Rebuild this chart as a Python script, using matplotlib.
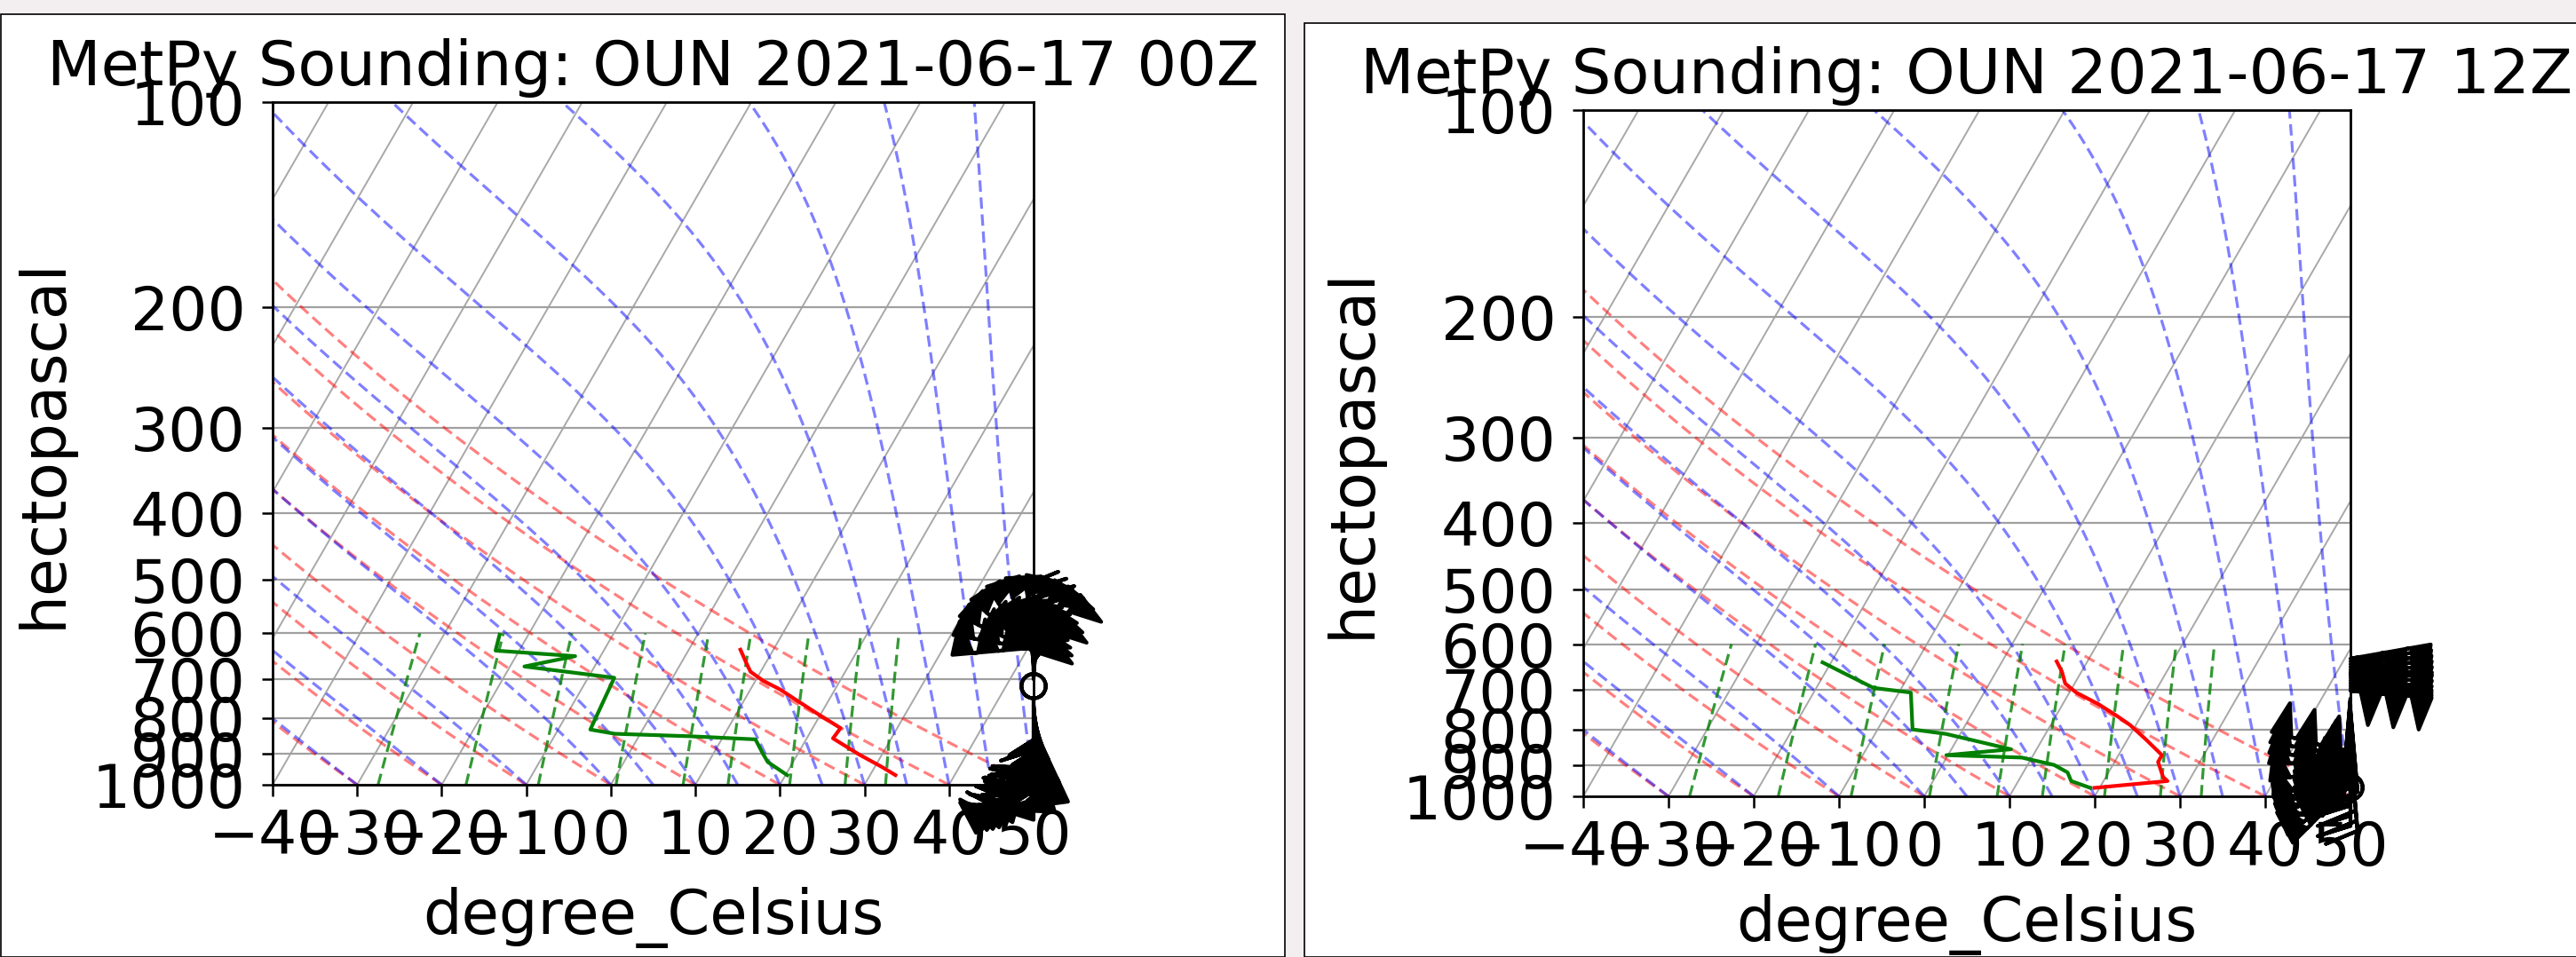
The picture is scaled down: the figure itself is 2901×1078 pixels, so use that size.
import numpy as np
import matplotlib
matplotlib.use('Agg')
import matplotlib.pyplot as plt
from matplotlib.transforms import Affine2D
from matplotlib.patches import Rectangle
from matplotlib.ticker import NullLocator

W, H = 2901, 1078

# --- sounding data ---
titles = ['MetPy Sounding: OUN 2021-06-17 00Z', 'MetPy Sounding: OUN 2021-06-17 12Z']

p_t_00 = [634, 663, 683, 704, 725, 755, 785, 826, 855, 864, 903, 940, 968]
t_00 = [6.1, 7.7, 8.8, 10.9, 13.5, 16.5, 19.4, 23.3, 23.1, 23.9, 27.3, 30.7, 33.0]
p_td_00 = [603, 636, 648, 671, 697, 830, 842, 849, 858, 899, 926, 968]
td_00 = [-23.4, -22.8, -13.0, -18.3, -6.9, -6.2, -3.0, 6.0, 14.0, 15.8, 17.0, 20.2]

p_t_12 = [636, 658, 685, 706, 734, 764, 787, 827, 871, 891, 937, 950, 972]
t_12 = [6.4, 7.7, 8.9, 10.8, 14.2, 17.2, 19.3, 22.2, 25.1, 25.1, 26.7, 27.5, 19.4]
p_td_12 = [638, 662, 695, 706, 799, 811, 854, 871, 878, 900, 923, 950, 972]
td_12 = [-21.0, -17.7, -13.3, -8.6, -5.9, -1.7, 7.0, -0.2, 8.8, 13.1, 15.2, 16.2, 18.9]

# wind barbs: pressure (hPa), direction (deg, from), speed (kt)
p_wind_00 = [630, 633, 636, 639, 642, 645, 648, 651, 654, 657, 660,
             670, 680, 690, 700, 717,
             750, 765, 780, 795, 810, 825, 840, 855, 870, 885, 900, 915, 930, 945, 958, 968]
wdir_00 = [265, 280, 295, 310, 325, 340, 355, 5, 15, 25, 35,
           355, 0, 5, 0, 0,
           180, 175, 170, 165, 160, 155, 165, 180, 195, 200, 205, 210, 215, 220, 225, 225]
wspd_00 = [150, 150, 150, 150, 150, 150, 150, 150, 150, 150, 150,
           20, 20, 20, 20, 0,
           60, 70, 80, 90, 100, 100, 90, 80, 80, 90, 100, 90, 80, 70, 60, 50]

p_wind_12 = [630, 636, 642, 648, 654, 660, 666, 672, 678, 684, 690, 696, 702,
             720, 735, 750, 765, 780, 795, 810, 825, 840, 855,
             865, 875, 885, 895, 905, 915, 925, 935, 945, 955, 963, 971]
wdir_12 = [80, 82, 84, 86, 88, 90, 90, 92, 94, 95, 95, 95, 95,
           185, 180, 175, 180, 185, 190, 195, 200, 180, 175,
           285, 280, 275, 270, 260, 250, 245, 240, 235, 230, 225, 0]
wspd_12 = [150, 150, 150, 150, 150, 150, 150, 150, 150, 150, 150, 150, 150,
           40, 40, 40, 40, 40, 40, 40, 40, 40, 40,
           150, 150, 150, 150, 150, 150, 150, 150, 150, 150, 150, 0]

t_ticks = [-40, -30, -20, -10, 0, 10, 20, 30, 40, 50]
p_ticks = [100, 200, 300, 400, 500, 600, 700, 800, 900, 1000]
p_tick_labels = ['100', '200', '300', '400', '500', '600', '700', '800', '900', '1000']

# background lines of the diagram
isotherms = np.arange(-80, 51, 10)
dry_t0 = np.arange(-40, 51, 10)
moist_t0 = np.concatenate((np.arange(-40, 0, 10), np.arange(0, 51, 5)))
mixing_ratios = [0.0004, 0.001, 0.002, 0.004, 0.007, 0.01, 0.016, 0.024, 0.032]

Rd, Cp, Lv, eps = 287.04749, 1004.6662, 2.50084e6, 0.6219569
kappa = Rd / Cp


def sat_vp(tc):
    return 6.112 * np.exp(17.67 * tc / (tc + 243.5))


def dry_adiabat(t0, p):
    return (t0 + 273.15) * (p / 1000.0) ** kappa - 273.15


def moist_rate(p, tk):
    es = sat_vp(tk - 273.15)
    rs = eps * es / (p - es)
    return (Rd * tk + Lv * rs) / (Cp + Lv * Lv * rs * eps / (Rd * tk * tk)) / p


def moist_adiabat(t0, p):
    tk = [t0 + 273.15]
    for i in range(len(p) - 1):
        h = p[i + 1] - p[i]
        T = tk[-1]
        k1 = moist_rate(p[i], T)
        k2 = moist_rate(p[i] + h / 2, T + h / 2 * k1)
        k3 = moist_rate(p[i] + h / 2, T + h / 2 * k2)
        k4 = moist_rate(p[i] + h, T + h * k3)
        tk.append(T + h / 6 * (k1 + 2 * k2 + 2 * k3 + k4))
    return np.array(tk) - 273.15


def mixing_dewpoint(w, p):
    e = p * w / (eps + w)
    a = np.log(e / 6.112)
    return 243.5 * a / (17.67 - a)


fig = plt.figure(figsize=(W / 100, H / 100), dpi=100, facecolor='#f3eef0')

# the two framed panels
fig.add_artist(Rectangle((1 / W, 0), 1446 / W, 1062 / H, transform=fig.transFigure,
                         facecolor='white', edgecolor='black', lw=1.2, zorder=-5))
fig.add_artist(Rectangle((1469 / W, 0), 1440 / W, 1052 / H, transform=fig.transFigure,
                         facecolor='white', edgecolor='black', lw=1.2, zorder=-5))

# axes boxes in pixels: left, bottom(from top), width, height, xlabel y
boxes = [(307, 884, 857, 769, -0.15), (1783, 897, 864, 773, -0.142)]
profiles = [(p_t_00, t_00, p_td_00, td_00, p_wind_00, wdir_00, wspd_00),
            (p_t_12, t_12, p_td_12, td_12, p_wind_12, wdir_12, wspd_12)]

p_full = np.linspace(1000, 100, 181)
p_mix = np.linspace(1000, 600, 50)
dash = (0, (4, 2))

for (x0, yb, w, h, xl_y), title, prof in zip(boxes, titles, profiles):
    ax = fig.add_axes([x0 / W, (H - yb) / H, w / W, h / H])
    ax.set_yscale('log')
    ax.set_xlim(-40, 50)
    ax.set_ylim(1000, 100)
    k = np.tan(np.radians(30)) * h / w
    skew = ax.transScale + ax.transLimits + Affine2D(np.array([[1, k, 0], [0, 1, 0], [0, 0, 1]])) + ax.transAxes

    for t in isotherms:
        ax.plot([t, t], [1000, 100], color='#a8a8a8', lw=1.4, transform=skew, zorder=1)
    for t0 in dry_t0:
        ax.plot(dry_adiabat(t0, p_full), p_full, color='r', alpha=0.5, lw=2.3,
                ls=dash, transform=skew, zorder=2)
    for t0 in moist_t0:
        ax.plot(moist_adiabat(t0, p_full), p_full, color='b', alpha=0.5, lw=2.3,
                ls=dash, transform=skew, zorder=2)
    for wr in mixing_ratios:
        ax.plot(mixing_dewpoint(wr, p_mix), p_mix, color='g', alpha=0.8, lw=2.3,
                ls=dash, transform=skew, zorder=2)

    p_t, t, p_td, td, p_w, wdir, wspd = prof
    ax.plot(t, p_t, color='r', lw=3, transform=skew, zorder=4)
    ax.plot(td, p_td, color='g', lw=3, transform=skew, zorder=4)

    wd = np.radians(wdir)
    u = -np.array(wspd) * np.sin(wd)
    v = -np.array(wspd) * np.cos(wd)
    ax.barbs(np.ones(len(p_w)), p_w, u, v, transform=ax.get_yaxis_transform(),
             clip_on=False, length=11.5, lw=3, color='black', zorder=5)

    ax.set_xlim(-40, 50)
    ax.set_ylim(1000, 100)
    ax.set_xticks(t_ticks)
    ax.set_yticks(p_ticks, p_tick_labels)
    ax.yaxis.set_minor_locator(NullLocator())
    ax.yaxis.grid(True, color='#a0a0a0', lw=1.6)
    ax.tick_params(axis='both', labelsize=49, length=9, width=1.8)
    ax.tick_params(axis='x', pad=10)
    ax.tick_params(axis='y', pad=13)
    for s in ax.spines.values():
        s.set_linewidth(2)
    ax.set_title(title, fontsize=50.7, pad=14)
    ax.set_xlabel('degree_Celsius', fontsize=49.5)
    ax.set_ylabel('hectopascal', fontsize=50)
    ax.xaxis.set_label_coords(0.5, xl_y)
    ax.yaxis.set_label_coords(-0.262, 0.5)

fig.savefig('out.png', dpi=100, facecolor=fig.get_facecolor())
